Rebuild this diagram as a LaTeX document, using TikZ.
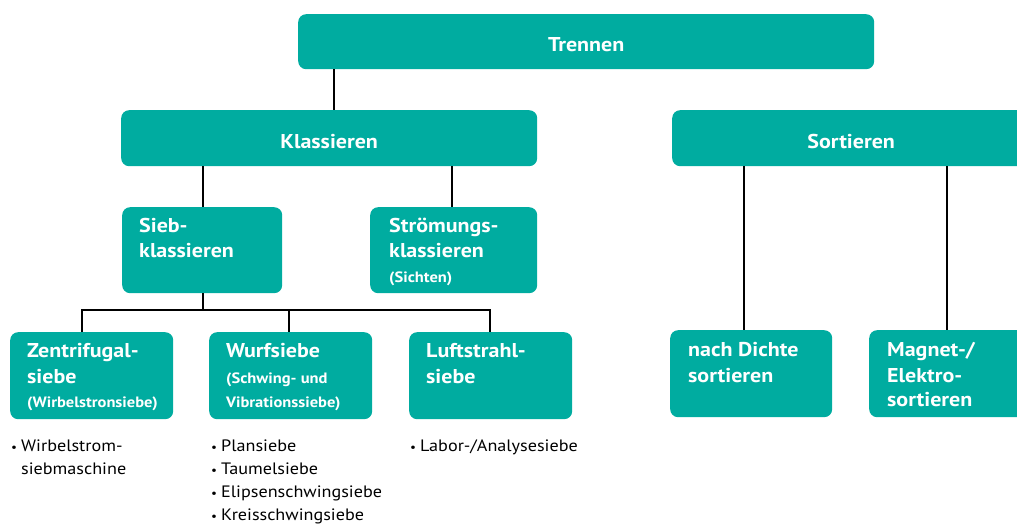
\documentclass[tikz,border=0pt]{standalone}
\usepackage{fontspec}
\setmainfont{PT Sans}[FakeStretch=1.1]
\usetikzlibrary{calc}
\definecolor{teal1}{RGB}{0,172,160}
\begin{document}
\begin{tikzpicture}[x=1pt,y=-1pt,
  box/.style={fill=teal1, draw=none, rounded corners=8pt, inner sep=0pt, anchor=north west},
  head/.style={text=white, inner sep=0pt, anchor=base, font=\bfseries\fontsize{20}{25}\selectfont},
  btxt/.style={text=white, inner sep=0pt, anchor=base west, font=\bfseries\fontsize{20}{25}\selectfont},
  list/.style={text=black, inner sep=0pt, anchor=base west, font=\fontsize{16.5}{23}\selectfont},
  conn/.style={draw=black, line width=1.8pt}]
\useasboundingbox (0,0) rectangle (1017,526);
\clip (0,0) rectangle (1017,526);
\newcommand{\sm}{\fontsize{15}{24}\selectfont}
\newcommand{\bl}{\makebox[10pt][l]{\fontsize{12}{12}\selectfont•}}
% boxes
\node[box, minimum width=576pt, minimum height=55pt] (tre) at (298,14) {};
\node[box, minimum width=416pt, minimum height=56pt] (kla) at (121,110) {};
\node[box, minimum width=358pt, minimum height=56pt] (sor) at (672,110) {};
\node[box, minimum width=160pt, minimum height=86pt] (sie) at (122,207) {};
\node[box, minimum width=167pt, minimum height=86pt] (str) at (370,207) {};
\node[box, minimum width=163pt, minimum height=87pt] (zen) at (10,332) {};
\node[box, minimum width=163pt, minimum height=87pt] (wur) at (209,332) {};
\node[box, minimum width=163pt, minimum height=87pt] (luf) at (409,332) {};
\node[box, minimum width=162pt, minimum height=87pt] (dic) at (670,330) {};
\node[box, minimum width=162pt, minimum height=87pt] (mag) at (869,330) {};
% texts
\node[head] (treT) at ($(tre.center)+(0,10)$) {Trennen};
\node[head] (klaT) at ($(kla.center)+(0,10)$) {Klassieren};
\node[head] (sorT) at ($(sor.center)+(0,10)$) {Sortieren};
\node[btxt] (sieT) at ($(sie.north west)+(17,26)$) {\begin{tabular}[t]{@{}l@{}}Sieb-\\klassieren\end{tabular}};
\node[btxt] (strT) at ($(str.north west)+(19,26)$) {\begin{tabular}[t]{@{}l@{}}Strömungs-\\klassieren\\{\sm(Sichten)}\end{tabular}};
\node[btxt] (zenT) at ($(zen.north west)+(17,26)$) {\begin{tabular}[t]{@{}l@{}}Zentrifugal-\\siebe\\{\sm(Wirbelstronsiebe)}\end{tabular}};
\node[btxt] (wurT) at ($(wur.north west)+(17,26)$) {\begin{tabular}[t]{@{}l@{}}Wurfsiebe\\{\sm(Schwing- und}\\{\sm Vibrationssiebe)}\end{tabular}};
\node[btxt] (lufT) at ($(luf.north west)+(17,26)$) {\begin{tabular}[t]{@{}l@{}}Luftstrahl-\\siebe\end{tabular}};
\node[btxt] (dicT) at ($(dic.north west)+(18,27)$) {\begin{tabular}[t]{@{}l@{}}nach Dichte\\sortieren\end{tabular}};
\node[btxt] (magT) at ($(mag.north west)+(18,27)$) {\begin{tabular}[t]{@{}l@{}}Magnet-/\\Elektro-\\sortieren\end{tabular}};
% lists
\node[list] (zenL) at ($(zen.south west)+(1,32)$) {\begin{tabular}[t]{@{}l@{}l@{}}\bl&Wirbelstrom-\\&siebmaschine\end{tabular}};
\node[list] (wurL) at ($(wur.south west)+(2,32)$) {\begin{tabular}[t]{@{}l@{}l@{}}\bl&Plansiebe\\\bl&Taumelsiebe\\\bl&Elipsenschwingsiebe\\\bl&Kreisschwingsiebe\end{tabular}};
\node[list] (lufL) at ($(luf.south west)+(1,32)$) {\begin{tabular}[t]{@{}l@{}l@{}}\bl&Labor-/Analysesiebe\end{tabular}};
% connectors
\coordinate (bar) at ($(sie.south)+(0,17)$);
\draw[conn] ([xshift=5pt]kla.north) -- ([xshift=5pt]kla.north |- tre.south);
\draw[conn] ($(sor.north west)+(129,0)$) -- ($(sor.north west)+(129,0)$ |- tre.south);
\draw[conn] ([xshift=1pt]sie.north) -- ([xshift=1pt]sie.north |- kla.south);
\draw[conn] ([xshift=-1.5pt]str.north) -- ([xshift=-1.5pt]str.north |- kla.south);
\draw[conn] ([xshift=1pt]sie.south) -- ([xshift=1pt]sie.south |- bar);
\draw[conn] ([xshift=-9.5pt]zen.north) |- ([xshift=-0.5pt]luf.north |- bar) -- ([xshift=-0.5pt]luf.north);
\draw[conn] ([xshift=-1.5pt]wur.north) -- ([xshift=-1.5pt]wur.north |- bar);
\draw[conn] ([xshift=-7pt]dic.north) -- ([xshift=-7pt]dic.north |- sor.south);
\draw[conn] ([xshift=-3pt]mag.north) -- ([xshift=-3pt]mag.north |- sor.south);
\end{tikzpicture}
\end{document}
